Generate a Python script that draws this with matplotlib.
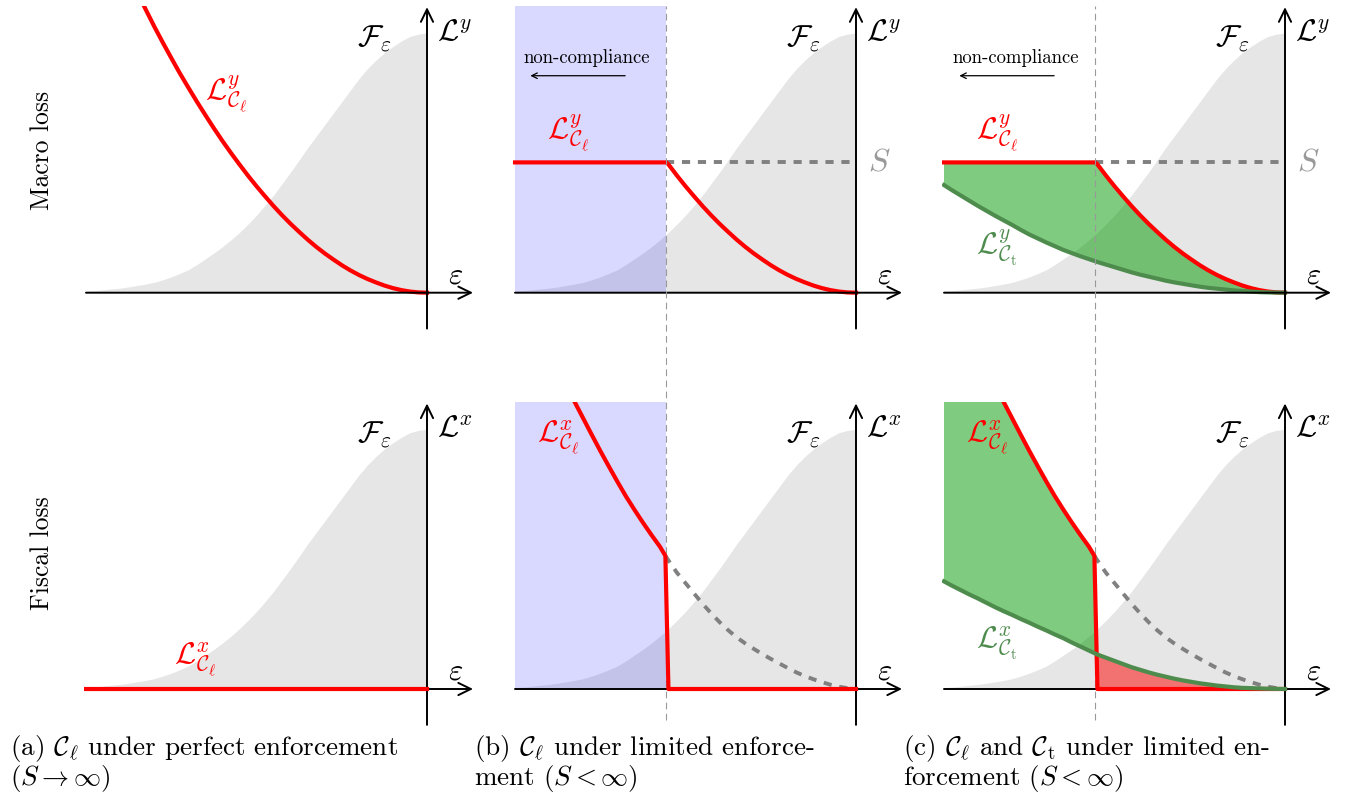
import numpy as np
import matplotlib.pyplot as plt

plt.rcParams['font.family'] = 'serif'
plt.rcParams['font.serif'] = ['cmr10', 'DejaVu Serif']
plt.rcParams['mathtext.fontset'] = 'cm'
plt.rcParams['axes.unicode_minus'] = False

# epsilon grid: 0 is the vertical axis, -1 the left end of the horizontal axis
eps = np.array([-1.000, -0.975, -0.950, -0.925, -0.900, -0.875, -0.850, -0.825, -0.800, -0.775,
                -0.750, -0.725, -0.700, -0.675, -0.650, -0.625, -0.600, -0.575, -0.550, -0.525,
                -0.500, -0.475, -0.450, -0.425, -0.400, -0.375, -0.350, -0.325, -0.300, -0.275,
                -0.250, -0.225, -0.200, -0.175, -0.150, -0.125, -0.100, -0.075, -0.050, -0.025,
                0.000])

# grey distribution F_eps
cdf_f = np.array([0.005, 0.007, 0.010, 0.013, 0.016, 0.020, 0.025, 0.030, 0.036, 0.045,
                  0.055, 0.067, 0.080, 0.098, 0.118, 0.138, 0.160, 0.184, 0.210, 0.239,
                  0.270, 0.304, 0.340, 0.380, 0.420, 0.462, 0.505, 0.545, 0.585, 0.625,
                  0.665, 0.705, 0.745, 0.780, 0.810, 0.836, 0.858, 0.877, 0.893, 0.901,
                  0.905])

# macro loss under C_l and C_t
loss_y_l = np.array([1.450, 1.378, 1.309, 1.241, 1.175, 1.110, 1.048, 0.987, 0.928, 0.872,
                     0.818, 0.765, 0.715, 0.666, 0.619, 0.573, 0.529, 0.487, 0.447, 0.408,
                     0.371, 0.336, 0.302, 0.270, 0.240, 0.212, 0.185, 0.160, 0.137, 0.116,
                     0.096, 0.078, 0.062, 0.048, 0.036, 0.025, 0.016, 0.009, 0.004, 0.001,
                     0.000])
loss_y_t = np.array([0.375, 0.356, 0.338, 0.320, 0.302, 0.285, 0.268, 0.252, 0.236, 0.219,
                     0.203, 0.189, 0.175, 0.162, 0.149, 0.138, 0.127, 0.117, 0.107, 0.098,
                     0.089, 0.080, 0.071, 0.063, 0.056, 0.049, 0.042, 0.036, 0.031, 0.026,
                     0.021, 0.017, 0.014, 0.011, 0.008, 0.006, 0.004, 0.002, 0.001, 0.0005,
                     0.000])

# fiscal loss under C_l and C_t
loss_x_l = np.array([1.430, 1.370, 1.310, 1.250, 1.190, 1.125, 1.060, 1.000, 0.943, 0.886,
                     0.830, 0.776, 0.723, 0.672, 0.625, 0.580, 0.537, 0.496, 0.448, 0.405,
                     0.369, 0.333, 0.297, 0.264, 0.233, 0.205, 0.180, 0.159, 0.140, 0.122,
                     0.105, 0.089, 0.073, 0.058, 0.045, 0.034, 0.024, 0.015, 0.008, 0.003,
                     0.000])
loss_x_t = np.array([0.375, 0.359, 0.344, 0.329, 0.315, 0.300, 0.285, 0.271, 0.258, 0.244,
                     0.231, 0.217, 0.204, 0.190, 0.177, 0.162, 0.148, 0.134, 0.120, 0.109,
                     0.098, 0.087, 0.076, 0.067, 0.058, 0.050, 0.043, 0.036, 0.030, 0.025,
                     0.020, 0.016, 0.012, 0.009, 0.006, 0.004, 0.003, 0.002, 0.001, 0.0005,
                     0.000])

cutoff = -0.556          # enforcement threshold (vertical dashed line)
s_level = 0.454          # sanction S
drop_top_x, drop_bot_x, drop_green_x = -0.559, -0.550, -0.552
loss_x_at_cut = 0.464
loss_xt_at_cut = 0.120

captions = [['(a) $\\mathcal{C}_\\ell$ under perfect enforcement', '$(S \\rightarrow \\infty)$'],
            ['(b) $\\mathcal{C}_\\ell$ under limited enforce-', 'ment $(S < \\infty)$'],
            ['(c) $\\mathcal{C}_\\ell$ and $\\mathcal{C}_\\mathrm{t}$ under limited en-',
             'forcement $(S < \\infty)$']]
caption_x = [10, 474, 903]
row_labels = ['Macro loss', 'Fiscal loss']

RED = '#ff0000'
GREEN_LINE = '#4e8c4e'
GREY = '#e6e6e6'
DASH = '#808080'
FS = 22
W, H = 1353, 802

fig = plt.figure(figsize=(W / 100, H / 100), dpi=100)

ox = [427, 856, 1285]
oy = [292.7, 689]
sx, sy = 341, 287
xlim = (-1.005, 0.16)
ylim = (-0.15, 1.0)

axes = {}
for r in range(2):
    for c in range(3):
        left = ox[c] + xlim[0] * sx
        top = oy[r] - ylim[1] * sy
        wpx = (xlim[1] - xlim[0]) * sx
        hpx = (ylim[1] - ylim[0]) * sy
        ax = fig.add_axes([left / W, 1 - (top + hpx) / H, wpx / W, hpx / H])
        ax.set_xlim(*xlim)
        ax.set_ylim(*ylim)
        ax.axis('off')
        axes[r, c] = ax

        ax.fill_between(eps, 0, cdf_f, color=GREY, lw=0, zorder=1)
        arrow = dict(arrowstyle='->,head_length=0.45,head_width=0.22', lw=1.4,
                     color='black', shrinkA=0, shrinkB=0, mutation_scale=20)
        ax.annotate('', xy=(0.135, 0), xytext=(-1.0, 0), arrowprops=arrow,
                    annotation_clip=False, zorder=6)
        ax.annotate('', xy=(0, 0.995), xytext=(0, -0.125), arrowprops=arrow,
                    annotation_clip=False, zorder=6)
        sup = 'y' if r == 0 else 'x'
        ax.text(0.03, 0.905, '$\\mathcal{L}^%s$' % sup, fontsize=FS, ha='left', va='center')
        ax.text(-0.155, 0.885, '$\\mathcal{F}_\\varepsilon$', fontsize=FS, ha='center', va='center')
        ax.text(0.083, 0.06, '$\\varepsilon$', fontsize=FS, ha='center', va='center')

lab_l = '$\\mathcal{L}^{%s}_{\\mathcal{C}_\\ell}$'
lab_t = '$\\mathcal{L}^{%s}_{\\mathcal{C}_\\mathrm{t}}$'

# ---- macro row ----
ax = axes[0, 0]
ax.plot(eps, loss_y_l, color=RED, lw=3.0, zorder=5)
ax.text(-0.59, 0.69, lab_l % 'y', color=RED, fontsize=FS, ha='center', va='center', zorder=10)

right = eps > cutoff
red_x = np.concatenate([[-1.0, cutoff], eps[right]])
red_y = np.concatenate([[s_level, s_level], loss_y_l[right]])

for c in (1, 2):
    ax = axes[0, c]
    ax.plot([cutoff, 0], [s_level, s_level], color=DASH, lw=2.8, dashes=(2.1, 2.0), zorder=4)
    ax.plot(red_x, red_y, color=RED, lw=3.0, zorder=5)
    ax.text(0.067, s_level, '$S$', color='#999999', fontsize=FS + 1, ha='center', va='center')
    ax.text(-0.845, 0.556, lab_l % 'y', color=RED, fontsize=FS, ha='center', va='center', zorder=10)
    ax.text(-0.79, 0.818, 'non-compliance', fontsize=13.5, ha='center', va='center')
    ax.annotate('', xy=(-0.955, 0.756), xytext=(-0.677, 0.756),
                arrowprops=dict(arrowstyle='->', lw=0.9, color='black',
                                shrinkA=0, shrinkB=0), zorder=6)

axes[0, 1].fill_between([-1.0, cutoff], 0, 1.0, color='blue', alpha=0.15, lw=0, zorder=2)

ax = axes[0, 2]
ax.fill(np.concatenate([red_x, eps[::-1]]), np.concatenate([red_y, loss_y_t[::-1]]),
        color=(0, 0.6, 0), alpha=0.5, lw=0, zorder=3)
ax.plot(eps, loss_y_t, color=GREEN_LINE, lw=3.0, zorder=5.5)
ax.text(-0.845, 0.156, lab_t % 'y', color=GREEN_LINE, fontsize=FS, ha='center', va='center', zorder=10)

# ---- fiscal row ----
ax = axes[1, 0]
ax.plot([-1.0, 0], [0, 0], color=RED, lw=3.0, zorder=7)
ax.text(-0.68, 0.10, lab_l % 'x', color=RED, fontsize=FS, ha='center', va='center', zorder=10)

left_part = eps < drop_top_x
fx = np.concatenate([eps[left_part], [drop_top_x, drop_bot_x, 0]])
fy = np.concatenate([loss_x_l[left_part], [loss_x_at_cut, 0, 0]])
after = eps > drop_top_x
dash_x = np.concatenate([[drop_top_x], eps[after]])
dash_y = np.concatenate([[loss_x_at_cut], loss_x_l[after]])

for c in (1, 2):
    ax = axes[1, c]
    ax.plot(dash_x, dash_y, color=DASH, lw=2.8, dashes=(2.1, 2.0), zorder=4)
    ax.plot(fx, fy, color=RED, lw=3.0, zorder=7)
    ax.text(-0.872, 0.875, lab_l % 'x', color=RED, fontsize=FS, ha='center', va='center', zorder=10)

axes[1, 1].fill_between([-1.0, cutoff], 0, 1.0, color='blue', alpha=0.15, lw=0, zorder=2)

ax = axes[1, 2]
gl = eps < drop_green_x
gx = np.concatenate([eps[left_part], [drop_top_x, drop_green_x], eps[gl][::-1]])
gy = np.concatenate([loss_x_l[left_part], [loss_x_at_cut, loss_xt_at_cut], loss_x_t[gl][::-1]])
ax.fill(gx, gy, color=(0, 0.6, 0), alpha=0.5, lw=0, zorder=3)
gr = eps > drop_green_x
rx = np.concatenate([[drop_green_x], eps[gr], [drop_bot_x]])
ry = np.concatenate([[loss_xt_at_cut], loss_x_t[gr], [0]])
ax.fill(rx, ry, color=(1, 0, 0), alpha=0.5, lw=0, zorder=3)
ax.plot(eps, loss_x_t, color=GREEN_LINE, lw=3.0, zorder=7.5)
ax.text(-0.845, 0.16, lab_t % 'x', color=GREEN_LINE, fontsize=FS, ha='center', va='center', zorder=10)

# vertical enforcement line through both rows
row_gap = (oy[1] - oy[0]) / sy
for c in (1, 2):
    axes[1, c].plot([cutoff, cutoff], [-0.108, 1.0 + row_gap], color='#999999', lw=0.8,
                    dashes=(6, 4), clip_on=False, zorder=2.5)

for i, name in enumerate(row_labels):
    fig.text(42 / W, 1 - [150, 553][i] / H, name, rotation=90, ha='center', va='center',
             fontsize=18.5)

for i, (l1, l2) in enumerate(captions):
    fig.text(caption_x[i] / W, 1 - 748 / H, l1, ha='left', va='center', fontsize=19.5)
    fig.text(caption_x[i] / W, 1 - 779 / H, l2, ha='left', va='center', fontsize=19.5)

fig.savefig('out.png', dpi=100)
